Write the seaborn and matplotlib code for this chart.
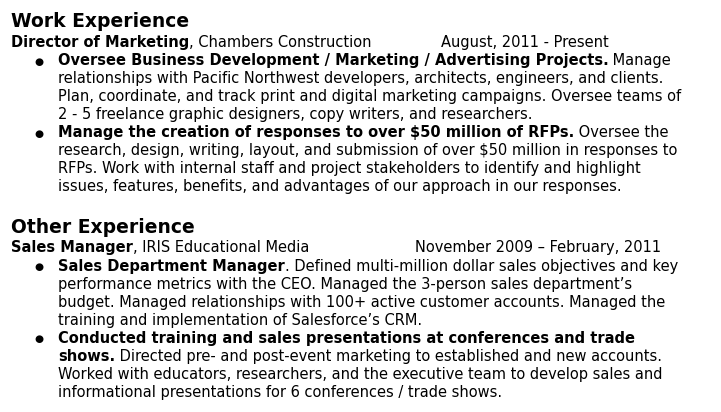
import matplotlib
matplotlib.use("Agg")
import matplotlib.pyplot as plt
import seaborn as sns

# ---------------- content ----------------
section_titles = ["Work Experience", "Other Experience"]
job_titles = ["Director of Marketing", "Sales Manager"]
employers = [", Chambers Construction", ", IRIS Educational Media"]
job_dates = ["August, 2011 - Present", "November 2009 \u2013 February, 2011"]

# each bullet: list of lines, each line: list of (text, is_bold)
work_bullets = [
    [
        [("Oversee Business Development / Marketing / Advertising Projects.", True), (" Manage", False)],
        [("relationships with Pacific Northwest developers, architects, engineers, and clients.", False)],
        [("Plan, coordinate, and track print and digital marketing campaigns. Oversee teams of", False)],
        [("2 - 5 freelance graphic designers, copy writers, and researchers.", False)],
    ],
    [
        [("Manage the creation of responses to over $50 million of RFPs.", True), (" Oversee the", False)],
        [("research, design, writing, layout, and submission of over $50 million in responses to", False)],
        [("RFPs. Work with internal staff and project stakeholders to identify and highlight", False)],
        [("issues, features, benefits, and advantages of our approach in our responses.", False)],
    ],
]
other_bullets = [
    [
        [("Sales Department Manager", True), (". Defined multi-million dollar sales objectives and key", False)],
        [("performance metrics with the CEO. Managed the 3-person sales department\u2019s", False)],
        [("budget. Managed relationships with 100+ active customer accounts. Managed the", False)],
        [("training and implementation of Salesforce\u2019s CRM.", False)],
    ],
    [
        [("Conducted training and sales presentations at conferences and trade", True)],
        [("shows.", True), (" Directed pre- and post-event marketing to established and new accounts.", False)],
        [("Worked with educators, researchers, and the executive team to develop sales and", False)],
        [("informational presentations for 6 conferences / trade shows.", False)],
    ],
]
sections_bullets = [work_bullets, other_bullets]

# ---------------- layout ----------------
W, H = 721, 412
TITLE_SIZE = 13.5
BODY_SIZE = 10.5
LEFT = 11
BULLET_X = 39
TEXT_X = 58
LINE = 18
section_top = [27.0, 232.7]
date_x = [441, 415]

sns.set_theme(style="white")
plt.rcParams['font.family'] = ['DejaVu Sans']

fig = plt.figure(figsize=(W / 100, H / 100), dpi=100)
fig.patch.set_facecolor("white")
ax = fig.add_axes([0, 0, 1, 1])
ax.set_xlim(0, W)
ax.set_ylim(H, 0)
ax.axis("off")
renderer = fig.canvas.get_renderer()


def measure(s, bold, size):
    w = "bold" if bold else "normal"
    t1 = ax.text(0, 0, "X" + s + "X", fontsize=size, fontweight=w, parse_math=False)
    t2 = ax.text(0, 0, "XX", fontsize=size, fontweight=w, parse_math=False)
    d = t1.get_window_extent(renderer).width - t2.get_window_extent(renderer).width
    t1.remove()
    t2.remove()
    return d


def draw_run(x, y, segments, size):
    for s, bold in segments:
        ax.text(x, y, s, fontsize=size, fontweight="bold" if bold else "normal",
                va="baseline", ha="left", color="black", parse_math=False)
        x += measure(s, bold, size)
    return x


for i in range(2):
    y0 = section_top[i]
    ax.text(LEFT, y0, section_titles[i], fontsize=TITLE_SIZE, fontweight="bold",
            va="baseline", ha="left", color="black")
    yj = y0 + 19.5
    draw_run(LEFT, yj, [(job_titles[i], True), (employers[i], False)], BODY_SIZE)
    ax.text(date_x[i], yj, job_dates[i], fontsize=BODY_SIZE, va="baseline", ha="left", color="black")
    y = yj + LINE + 0.5
    for bullet in sections_bullets[i]:
        ax.text(BULLET_X, y - 3.5, "\u25cf", fontsize=7.5, va="center", ha="center", color="black")
        for line in bullet:
            draw_run(TEXT_X, y, line, BODY_SIZE)
            y += LINE

fig.savefig("out.png", dpi=100, facecolor="white")
